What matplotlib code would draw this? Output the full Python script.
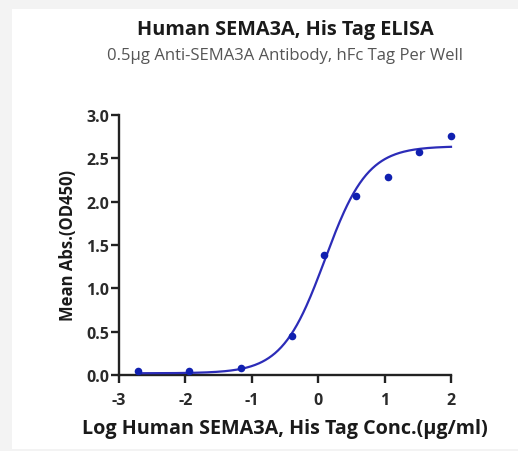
import numpy as np
import matplotlib
matplotlib.use("Agg")
import matplotlib.pyplot as plt
from matplotlib.patches import Rectangle

# Data (log10 concentration in ug/ml, mean OD450)
log_conc = [-2.72, -1.94, -1.16, -0.39, 0.09, 0.57, 1.05, 1.52, 2.00]
od450 = [0.05, 0.05, 0.08, 0.45, 1.39, 2.07, 2.29, 2.57, 2.76]

# 4PL fit parameters for the drawn curve
fit_bottom = 0.02
fit_top = 2.64
fit_logec50 = 0.10
fit_hill = 1.35

x_ticks = [-3, -2, -1, 0, 1, 2]
y_ticks = [0.0, 0.5, 1.0, 1.5, 2.0, 2.5, 3.0]

title = "Human SEMA3A, His Tag ELISA"
subtitle = "0.5\u03bcg Anti-SEMA3A Antibody, hFc Tag Per Well"
xlabel = "Log Human SEMA3A, His Tag Conc.(\u03bcg/ml)"
ylabel = "Mean Abs.(OD450)"

plt.rcParams['font.family'] = ['Open Sans', 'DejaVu Sans']

W, H = 518, 452
fig = plt.figure(figsize=(W / 100, H / 100), dpi=100)
fig.patch.set_facecolor('#f3f3f3')
fig.add_artist(Rectangle((12 / W, 2 / H), 1 - 12 / W, (450 - 10) / H,
                         transform=fig.transFigure, facecolor='white',
                         edgecolor='none', zorder=0))

ax = fig.add_axes([119 / W, (H - 376) / H, (451 - 119) / W, (376 - 116) / H])
ax.set_facecolor('none')

xs = np.linspace(min(log_conc), max(log_conc), 300)
ys = fit_bottom + (fit_top - fit_bottom) / (1 + 10 ** ((fit_logec50 - xs) * fit_hill))
ax.plot(xs, ys, color='#2c2cb8', lw=1.6, zorder=3, clip_on=False)
ax.scatter(log_conc, od450, s=30, color='#1020b0', zorder=4, clip_on=False,
           linewidths=0)

ax.set_xlim(-3, 2)
ax.set_ylim(0, 3)
ax.set_xticks(x_ticks)
ax.set_xticklabels([str(t) for t in x_ticks])
ax.set_yticks(y_ticks)
ax.set_yticklabels([f"{t:.1f}" for t in y_ticks])
for s in ['top', 'right']:
    ax.spines[s].set_visible(False)
for s in ['left', 'bottom']:
    ax.spines[s].set_linewidth(1.7)
    ax.spines[s].set_color('#222222')
ax.tick_params(axis='both', direction='out', length=5.5, width=1.7,
               color='#222222', labelsize=11.5, labelcolor='#2a2a2a', pad=1.5)
for lab in ax.get_xticklabels() + ax.get_yticklabels():
    lab.set_fontweight('bold')
ax.tick_params(axis='x', pad=7)

ax.set_xlabel(xlabel, fontsize=14.2, fontweight='bold', color='#1a1a1a', labelpad=7)
ax.set_ylabel(ylabel, fontsize=12, fontweight='bold', color='#1a1a1a', labelpad=7)

fig.text(285 / W, 1 - 30 / H, title, ha='center', va='center', fontsize=14.3,
         fontweight='bold', color='#1a1a1a')
fig.text(285 / W, 1 - 56 / H, subtitle, ha='center', va='center', fontsize=12,
         color='#555555')

fig.savefig('out.png', dpi=100, facecolor=fig.get_facecolor())
